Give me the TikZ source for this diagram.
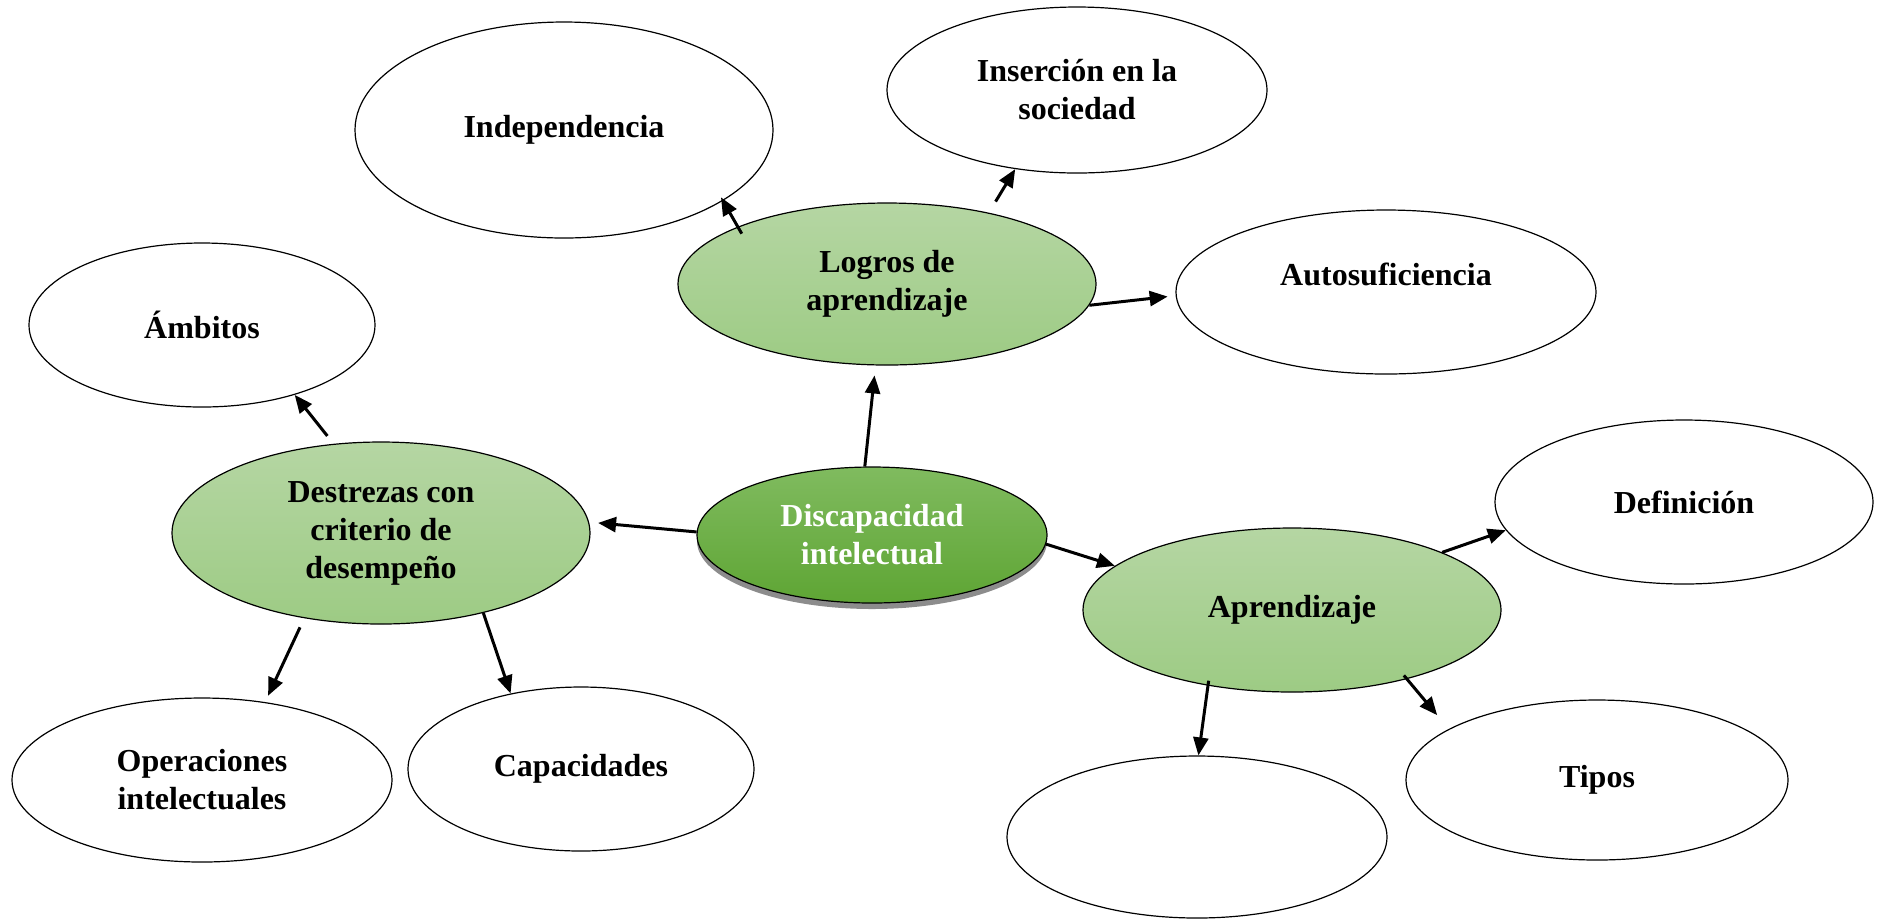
\documentclass[tikz,border=0pt]{standalone}
\usepackage{fontspec}
\setmainfont{Liberation Serif}
\usetikzlibrary{shapes.geometric,arrows.meta,shadows}
\definecolor{greentop}{RGB}{181,214,163}
\definecolor{greenbot}{RGB}{157,203,132}
\definecolor{coretop}{RGB}{128,187,95}
\definecolor{corebot}{RGB}{94,165,52}
\begin{document}
\begin{tikzpicture}[x=0.5pt,y=-0.5pt]
    \tikzset{base/.style = {shape=ellipse,draw,line width=0.6pt,inner sep=0pt,align=center,
        font=\fontsize{16pt}{19pt}\selectfont\bfseries}}
    \tikzset{core/.style = {base,top color=coretop,bottom color=corebot,text=white,
        minimum width=175pt,minimum height=68pt,
        drop shadow={shadow xshift=0pt,shadow yshift=-3pt,opacity=0.45,fill=black}}}
    \tikzset{branch/.style = {base,top color=greentop,bottom color=greenbot,
        minimum width=209pt,minimum height=82pt}}
    \tikzset{leaf/.style = {base,fill=white,minimum width=190pt,minimum height=82pt}}
    \tikzset{conn/.style = {line width=1.5pt,-{Triangle[length=9pt,width=7.5pt]}}}
    \useasboundingbox (0,0) rectangle (1879,918);
    % centre
    \node[core] (disc) at (872,535) {Discapacidad\\intelectual};
    % green branches
    \node[branch,minimum height=81pt] (logros) at (887,284) {Logros de\\aprendizaje};
    \node[branch,minimum height=91pt] (destrezas) at (381,533) {Destrezas con\\criterio de\\desempeño};
    \node[branch] (aprend) at (1292,610) {Aprendizaje};
    % leaves on top
    \node[leaf,minimum width=209pt,minimum height=108pt] (indep) at (564,130) {Independencia};
    \node[leaf,minimum height=83pt] (insercion) at (1077,90) {Inserción en la\\sociedad};
    \node[leaf,minimum width=210pt] (autosuf) at (1386,292) {\raisebox{9pt}[\height][\depth]{Autosuficiencia}};
    % leaves on the left
    \node[leaf,minimum width=173pt] (ambitos) at (202,325) {Ámbitos};
    \node[leaf] (operac) at (202,780) {Operaciones\\intelectuales};
    \node[leaf,minimum width=173pt] (capac) at (581,769) {Capacidades};
    % leaves on the right
    \node[leaf,minimum width=189pt] (defin) at (1684,502) {Definición};
    \node[leaf,minimum height=81pt] (vacio) at (1197,837) {};
    \node[leaf,minimum width=191pt,minimum height=80pt] (tipos) at (1597,780) {Tipos};
    % arrows from the centre
    \draw[conn,shorten >=5pt] (disc.96) -- (logros.262.5);
    \draw[conn,shorten >=4.5pt] (disc.179) -- (destrezas.3.7);
    \draw[conn] (disc.-3) -- (aprend.166.3);
    % arrows from the branches
    \draw[conn,shorten <=-4pt,shorten >=-2pt] (logros.159.7) -- (indep.-24.3);
    \draw[conn,shorten <=6.5pt] (logros.35.9) -- (insercion.232.9);
    \draw[conn,shorten >=4pt] (logros.-6.6) -- (autosuf.181.6);
    \draw[conn,shorten <=5pt] (destrezas.118.4) -- (ambitos.-37.1);
    \draw[conn,shorten <=5pt,shorten >=3.5pt] (destrezas.228) -- (operac.51.5);
    \draw[conn] (destrezas.-38.6) -- (capac.133.8);
    \draw[conn] (aprend.21.1) -- (defin.189.7);
    \draw[conn,shorten <=-2.5pt] (aprend.222.1) -- (vacio.89.6);
    \draw[conn,shorten <=-2.4pt,shorten >=9pt] (aprend.-31.2) -- (tipos.161.1);
\end{tikzpicture}
\end{document}
